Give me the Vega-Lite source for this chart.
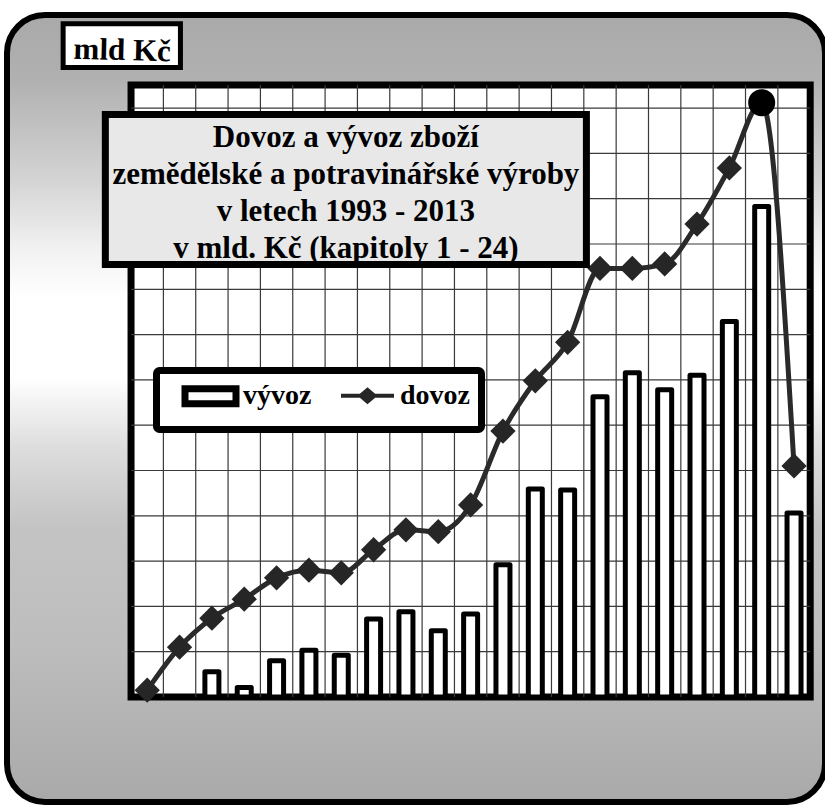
{
  "$schema": "https://vega.github.io/schema/vega-lite/v6.json",
  "width": 818,
  "height": 787,
  "autosize": {"type": "none"},
  "padding": {"left": 7, "top": 15, "right": 0, "bottom": 6},
  "background": "white",
  "view": {
    "cornerRadius": 38,
    "stroke": "black",
    "strokeWidth": 6,
    "fill": {
      "gradient": "linear", "x1": 0, "y1": 0, "x2": 0, "y2": 1,
      "stops": [
        {"offset": 0, "color": "#a9a9a9"},
        {"offset": 0.08, "color": "#b0b0b0"},
        {"offset": 0.21, "color": "#d4d4d4"},
        {"offset": 0.3, "color": "#f2f2f2"},
        {"offset": 0.36, "color": "#ffffff"},
        {"offset": 0.46, "color": "#ffffff"},
        {"offset": 0.55, "color": "#dddddd"},
        {"offset": 0.65, "color": "#c4c4c4"},
        {"offset": 0.8, "color": "#bdbdbd"},
        {"offset": 1, "color": "#a9a9a9"}
      ]
    }
  },
  "config": {"axis": {"disable": true}, "legend": {"strokeWidth": 7}},
  "datasets": {
    "obchod": [
      {"rok": 1993, "vyvoz": null, "dovoz": 1.5},
      {"rok": 1994, "vyvoz": null, "dovoz": 11.0},
      {"rok": 1995, "vyvoz": 5.6, "dovoz": 17.4},
      {"rok": 1996, "vyvoz": 2.1, "dovoz": 21.6},
      {"rok": 1997, "vyvoz": 8.0, "dovoz": 26.3},
      {"rok": 1998, "vyvoz": 10.3, "dovoz": 28.0},
      {"rok": 1999, "vyvoz": 9.2, "dovoz": 27.4},
      {"rok": 2000, "vyvoz": 17.2, "dovoz": 32.5},
      {"rok": 2001, "vyvoz": 18.8, "dovoz": 36.9},
      {"rok": 2002, "vyvoz": 14.6, "dovoz": 36.5},
      {"rok": 2003, "vyvoz": 18.3, "dovoz": 42.4},
      {"rok": 2004, "vyvoz": 29.2, "dovoz": 58.7},
      {"rok": 2005, "vyvoz": 45.9, "dovoz": 69.8},
      {"rok": 2006, "vyvoz": 45.7, "dovoz": 78.3},
      {"rok": 2007, "vyvoz": 66.3, "dovoz": 94.6},
      {"rok": 2008, "vyvoz": 71.6, "dovoz": 94.6},
      {"rok": 2009, "vyvoz": 67.8, "dovoz": 95.6},
      {"rok": 2010, "vyvoz": 71.0, "dovoz": 104.4},
      {"rok": 2011, "vyvoz": 82.9, "dovoz": 116.8},
      {"rok": 2012, "vyvoz": 108.3, "dovoz": 131.2},
      {"rok": 2013, "vyvoz": 40.6, "dovoz": 51.0}
    ],
    "mrizka_x": [
      {"rok": 1993.5}, {"rok": 1994.5}, {"rok": 1995.5}, {"rok": 1996.5}, {"rok": 1997.5},
      {"rok": 1998.5}, {"rok": 1999.5}, {"rok": 2000.5}, {"rok": 2001.5}, {"rok": 2002.5},
      {"rok": 2003.5}, {"rok": 2004.5}, {"rok": 2005.5}, {"rok": 2006.5}, {"rok": 2007.5},
      {"rok": 2008.5}, {"rok": 2009.5}, {"rok": 2010.5}, {"rok": 2011.5}, {"rok": 2012.5}
    ],
    "mrizka_y": [
      {"hodnota": 10}, {"hodnota": 20}, {"hodnota": 30}, {"hodnota": 40}, {"hodnota": 50},
      {"hodnota": 60}, {"hodnota": 70}, {"hodnota": 80}, {"hodnota": 90}, {"hodnota": 100},
      {"hodnota": 110}, {"hodnota": 120}, {"hodnota": 130}
    ]
  },
  "layer": [
    {
      "data": {"values": [{}]},
      "mark": {"type": "rect", "fill": "white", "stroke": "black", "strokeWidth": 7},
      "encoding": {
        "x": {"datum": 1992.5, "type": "quantitative", "axis": null, "scale": {"domain": [1988.819, 2013.803], "nice": false, "zero": false}},
        "x2": {"datum": 2013.5},
        "y": {"datum": 0, "type": "quantitative", "axis": null, "scale": {"domain": [-23.18, 150.55], "nice": false, "zero": false}},
        "y2": {"datum": 135.1}
      }
    },
    {
      "data": {"name": "mrizka_x"},
      "mark": {"type": "rule", "stroke": "#3a3a3a", "strokeWidth": 1.2},
      "encoding": {
        "x": {"field": "rok", "type": "quantitative", "axis": null},
        "y": {"datum": 0, "type": "quantitative", "axis": null},
        "y2": {"datum": 135.1}
      }
    },
    {
      "data": {"name": "mrizka_y"},
      "mark": {"type": "rule", "stroke": "#3a3a3a", "strokeWidth": 1.2},
      "encoding": {
        "y": {"field": "hodnota", "type": "quantitative", "axis": null},
        "x": {"datum": 1992.5, "type": "quantitative", "axis": null},
        "x2": {"datum": 2013.5}
      }
    },
    {
      "data": {"name": "obchod"},
      "mark": {"type": "bar", "width": 14, "fill": "white", "stroke": "black", "strokeWidth": 5, "strokeJoin": "round", "opacity": 1},
      "encoding": {
        "x": {"field": "rok", "type": "quantitative", "axis": null},
        "y": {"field": "vyvoz", "type": "quantitative", "axis": null}
      }
    },
    {
      "data": {"name": "obchod"},
      "mark": {"type": "line", "interpolate": "monotone", "stroke": "#2a2a2a", "strokeWidth": 5},
      "encoding": {
        "x": {"field": "rok", "type": "quantitative", "axis": null},
        "y": {"field": "dovoz", "type": "quantitative", "axis": null}
      }
    },
    {
      "data": {"name": "obchod"},
      "transform": [{"filter": "datum.rok !== 2012"}],
      "mark": {"type": "point", "shape": "diamond", "filled": true, "size": 640, "opacity": 1, "fill": "#262626", "strokeWidth": 0},
      "encoding": {
        "x": {"field": "rok", "type": "quantitative", "axis": null},
        "y": {"field": "dovoz", "type": "quantitative", "axis": null}
      }
    },
    {
      "data": {"name": "obchod"},
      "transform": [{"filter": "datum.rok === 2012"}],
      "mark": {"type": "point", "shape": "circle", "filled": true, "size": 730, "opacity": 1, "fill": "black", "strokeWidth": 0},
      "encoding": {
        "x": {"field": "rok", "type": "quantitative", "axis": null},
        "y": {"field": "dovoz", "type": "quantitative", "axis": null}
      }
    },
    {
      "data": {"name": "obchod"},
      "mark": {"type": "point", "filled": true, "size": 0, "opacity": 1},
      "encoding": {
        "x": {"field": "rok", "type": "quantitative", "axis": null},
        "y": {"field": "dovoz", "type": "quantitative", "axis": null},
        "shape": {
          "datum": "dovoz", "type": "nominal",
          "scale": {"domain": ["vývoz", "dovoz"], "range": ["M-2.55,-0.75H2.55V0.75H-2.55Z", "M-2.65,-0.2H-0.765L0,-0.85L0.765,-0.2H2.65V0.2H0.765L0,0.85L-0.765,0.2H-2.65Z"]},
          "legend": {
            "title": null, "orient": "none", "legendX": 149.5, "legendY": 355.5, "direction": "horizontal",
            "fillColor": "white", "strokeColor": "black", "padding": 11, "cornerRadius": 3,
            "symbolSize": 400, "symbolStrokeWidth": 7, "symbolOffset": 29, "labelOffset": 18.5, "columnPadding": 13, "symbolOpacity": 1,
            "labelFont": "Liberation Serif", "labelFontSize": 28, "labelFontWeight": "bold", "labelColor": "black"
          }
        },
        "fill": {
          "datum": "dovoz", "type": "nominal",
          "scale": {"domain": ["vývoz", "dovoz"], "range": ["white", "#262626"]},
          "legend": {
            "title": null, "orient": "none", "legendX": 149.5, "legendY": 355.5, "direction": "horizontal",
            "fillColor": "white", "strokeColor": "black", "padding": 11, "cornerRadius": 3,
            "symbolSize": 400, "symbolStrokeWidth": 7, "symbolOffset": 29, "labelOffset": 18.5, "columnPadding": 13, "symbolOpacity": 1,
            "labelFont": "Liberation Serif", "labelFontSize": 28, "labelFontWeight": "bold", "labelColor": "black"
          }
        },
        "stroke": {
          "datum": "dovoz", "type": "nominal",
          "scale": {"domain": ["vývoz", "dovoz"], "range": ["black", "transparent"]},
          "legend": {
            "title": null, "orient": "none", "legendX": 149.5, "legendY": 355.5, "direction": "horizontal",
            "fillColor": "white", "strokeColor": "black", "padding": 11, "cornerRadius": 3,
            "symbolSize": 400, "symbolStrokeWidth": 7, "symbolOffset": 29, "labelOffset": 18.5, "columnPadding": 13, "symbolOpacity": 1,
            "labelFont": "Liberation Serif", "labelFontSize": 28, "labelFontWeight": "bold", "labelColor": "black"
          }
        }
      }
    },
    {
      "data": {"values": [{}]},
      "mark": {"type": "rect", "fill": "#e8e8e8", "stroke": "black", "strokeWidth": 7},
      "encoding": {
        "x": {"datum": 1991.705, "type": "quantitative", "axis": null},
        "x2": {"datum": 2006.58},
        "y": {"datum": 95.47, "type": "quantitative", "axis": null},
        "y2": {"datum": 128.59}
      }
    },
    {
      "data": {"values": [{}]},
      "mark": {"type": "text", "font": "Liberation Serif", "fontWeight": "bold", "fontSize": 31, "align": "center", "baseline": "alphabetic", "lineHeight": 37, "fill": "black"},
      "encoding": {
        "x": {"datum": 1999.143, "type": "quantitative", "axis": null},
        "y": {"datum": 121.41, "type": "quantitative", "axis": null},
        "text": {"value": ["Dovoz a vývoz zboží", "zemědělské a potravinářské výroby", "v letech 1993 - 2013", "v mld. Kč (kapitoly 1 - 24)"]}
      }
    },
    {
      "data": {"values": [{}]},
      "mark": {"type": "rect", "fill": "white", "stroke": "black", "strokeWidth": 5},
      "encoding": {
        "x": {"datum": 1990.4, "type": "quantitative", "axis": null},
        "x2": {"datum": 1994.027},
        "y": {"datum": 138.96, "type": "quantitative", "axis": null},
        "y2": {"datum": 148.6}
      }
    },
    {
      "data": {"values": [{}]},
      "mark": {"type": "text", "font": "Liberation Serif", "fontWeight": "bold", "fontSize": 31, "align": "center", "baseline": "alphabetic", "fill": "black", "angle": 1.5},
      "encoding": {
        "x": {"datum": 1992.22, "type": "quantitative", "axis": null},
        "y": {"datum": 140.62, "type": "quantitative", "axis": null},
        "text": {"value": "mld Kč"}
      }
    }
  ]
}
